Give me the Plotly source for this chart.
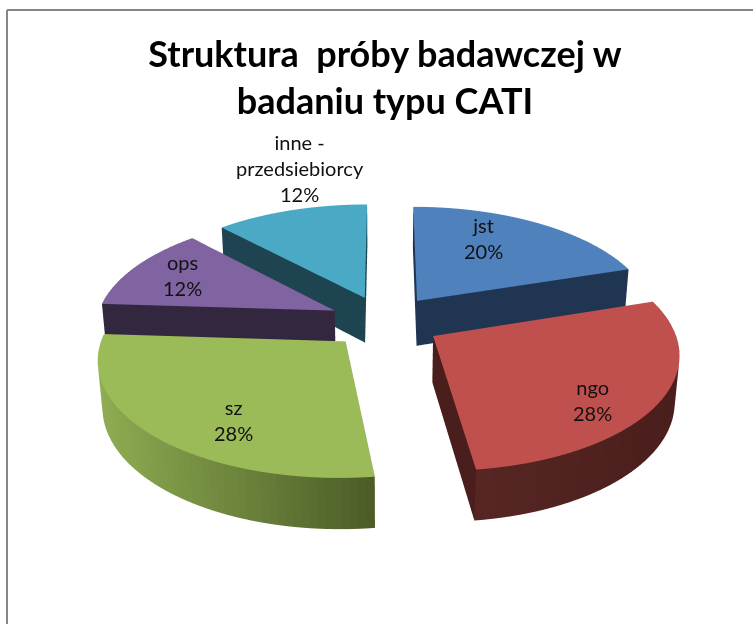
import numpy as np
import plotly.graph_objects as go

categories = ["jst", "ngo", "sz", "ops", "inne -<br>przedsiebiorcy"]
values = [20, 28, 28, 12, 12]
percent_labels = ["20%", "28%", "28%", "12%", "12%"]
top_colors = ["#4F81BD", "#C0504D", "#9BBB59", "#8064A2", "#4AA9C5"]
side_left = ["#1F3552", "#5A2825", "#8FAD52", "#33263F", "#1D4450"]
side_right = ["#1F3552", "#4A1E1C", "#4C5D27", "#33263F", "#1D4450"]
label_px = [(483, 238), (592, 400), (233, 420), (182, 275), (300, 168)]
title_text = "Struktura  próby badawczej w<br>badaniu typu CATI"

W, H = 753, 624
EXPLODE, THICK = 0.235, 0.22
ELEV, DIST = np.radians(28), 6.5
S, C = np.sin(ELEV), np.cos(ELEV)


def warp(x, y, z):
    w = DIST / (DIST + y * C - z * S)
    return x * w, y * w, z * w


def mix(a, b, f):
    ca = [int(a[i:i + 2], 16) for i in (1, 3, 5)]
    cb = [int(b[i:i + 2], 16) for i in (1, 3, 5)]
    return "rgb(%d,%d,%d)" % tuple(round(p + (q - p) * f) for p, q in zip(ca, cb))


def wedge(a0, a1, i):
    mid = (a0 + a1) / 2
    ox, oy = EXPLODE * np.sin(mid), EXPLODE * np.cos(mid)
    th = np.linspace(a0, a1, 61)
    n = len(th)
    ax = np.r_[ox, ox + np.sin(th), ox, ox + np.sin(th)]
    ay = np.r_[oy, oy + np.cos(th), oy, oy + np.cos(th)]
    az = np.r_[np.zeros(n + 1), -THICK * np.ones(n + 1)]
    x, y, z = warp(ax, ay, az)
    I, J, K, col = [], [], [], []
    for k in range(1, n):
        I.append(0); J.append(k); K.append(k + 1); col.append(top_colors[i])
    lo, hi = x.min(), x.max()
    b = n + 1
    for k in range(1, n):
        f = (x[k] - lo) / max(hi - lo, 1e-6)
        c = mix(side_left[i], side_right[i], f)
        I += [k, k + 1]; J += [k + 1, b + k + 1]; K += [b + k, b + k]; col += [c, c]
    for k in (1, n):
        c = side_right[i]
        I += [0, k]; J += [k, b + k]; K += [b, b]; col += [c, c]
    return go.Mesh3d(x=x, y=y, z=z, i=I, j=J, k=K, facecolor=col, flatshading=True,
                     lighting=dict(ambient=1, diffuse=0, specular=0, fresnel=0, roughness=1),
                     hoverinfo="skip", showscale=False)


fig = go.Figure()
edges = np.r_[0, np.cumsum(values)] / sum(values) * 2 * np.pi
for i in range(len(values)):
    fig.add_trace(wedge(edges[i], edges[i + 1], i))

annotations = [
    dict(text=f"{c}<br>{p}", x=px / W, y=1 - py / H, xref="paper", yref="paper", showarrow=False,
         xanchor="center", yanchor="middle",
         font=dict(family="Lato", size=20, color="#111111"))
    for c, p, (px, py) in zip(categories, percent_labels, label_px)
]

L = 1.6
CX, CZ = -0.035, 0.046
E = 1.21
ZOOM = 2.45
fig.update_layout(
    width=W, height=H, margin=dict(l=0, r=0, t=0, b=0),
    paper_bgcolor="white", showlegend=False,
    title=dict(text=title_text, x=385 / W, xanchor="center", y=1 - 67 / H, yanchor="middle",
               font=dict(family="Lato", size=36, color="black", weight="bold")),
    scene=dict(xaxis=dict(visible=False, range=[CX - L, CX + L], autorange=False),
               yaxis=dict(visible=False, range=[-L, L], autorange=False),
               zaxis=dict(visible=False, range=[CZ - L, CZ + L], autorange=False),
               aspectmode="manual", aspectratio=dict(x=ZOOM, y=ZOOM, z=ZOOM),
               domain=dict(x=[0, 1], y=[0, 1]),
               camera=dict(projection=dict(type="orthographic"),
                           eye=dict(x=0, y=-E * C, z=E * S), up=dict(x=0, y=0, z=1),
                           center=dict(x=0, y=0, z=0))),
    annotations=annotations,
    shapes=[dict(type="line", xref="paper", yref="paper", x0=7 / W, x1=1, y0=1 - 10 / H, y1=1 - 10 / H,
                 line=dict(color="#868686", width=2)),
            dict(type="line", xref="paper", yref="paper", x0=7 / W, x1=7 / W, y0=0, y1=1 - 10 / H,
                 line=dict(color="#868686", width=2))],
)
fig.write_html("out.html", config=dict(displayModeBar=False),
               post_script="document.body.style.margin='0';")
